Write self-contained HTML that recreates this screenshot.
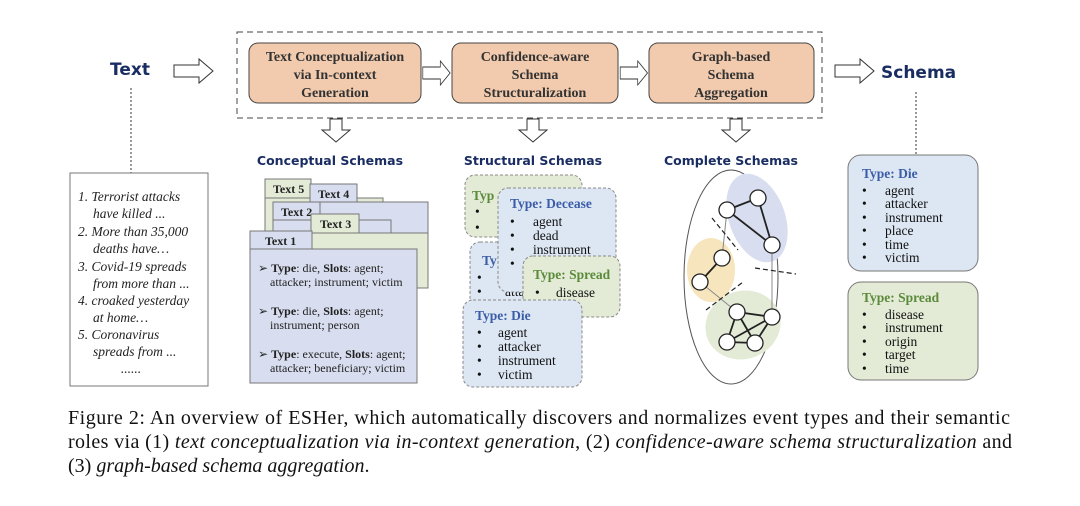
<!DOCTYPE html>
<html><head><meta charset="utf-8"><style>
html,body{margin:0;padding:0;background:#fff;width:1080px;height:506px;overflow:hidden}
svg text{font-family:"Liberation Serif",serif}
.ss{font-family:"DejaVu Sans","Liberation Sans",sans-serif;font-weight:bold;fill:#1a2d63}
</style></head><body>
<svg width="1080" height="506" viewBox="0 0 1080 506" xmlns="http://www.w3.org/2000/svg">
<defs>
<g id="harr"><path d="M0,-6 H25 V-12 L39,0 L25,12 V6 H0 Z" fill="#fff" stroke="#333" stroke-width="1"/></g>
<g id="darr"><path d="M-6,0 V11 H-14 L0,23 L14,11 H6 V0 Z" fill="#fff" stroke="#333" stroke-width="1"/></g>
</defs>
<text x="110" y="75" class="ss" font-size="17">Text</text>
<use href="#harr" x="174" y="71"/>
<rect x="237" y="32" width="585" height="86" fill="none" stroke="#444" stroke-dasharray="6,4"/>
<g font-weight="bold" font-size="14" fill="#333" text-anchor="middle">
<rect x="249" y="43" width="172" height="60" rx="9" fill="#f2cbae" stroke="#444"/>
<text x="335" y="61">Text Conceptualization</text><text x="335" y="79">via In-context</text><text x="335" y="97">Generation</text>
<rect x="452" y="43" width="166" height="60" rx="9" fill="#f2cbae" stroke="#444"/>
<text x="535" y="61">Confidence-aware</text><text x="535" y="79">Schema</text><text x="535" y="97">Structuralization</text>
<rect x="649" y="43" width="165" height="60" rx="9" fill="#f2cbae" stroke="#444"/>
<text x="731" y="61">Graph-based</text><text x="731" y="79">Schema</text><text x="731" y="97">Aggregation</text>
</g>
<g transform="scale(0.7,1)"><use href="#harr" x="604" y="73"/><use href="#harr" x="886" y="73"/></g>
<use href="#harr" x="835" y="71"/>
<text x="881" y="78" class="ss" font-size="17">Schema</text>
<use href="#darr" x="336" y="119"/><use href="#darr" x="533" y="119"/><use href="#darr" x="736" y="119"/>
<text x="330" y="165" class="ss" font-size="12.5" text-anchor="middle">Conceptual Schemas</text>
<text x="533" y="165" class="ss" font-size="12.5" text-anchor="middle">Structural Schemas</text>
<text x="731" y="165" class="ss" font-size="12.5" text-anchor="middle">Complete Schemas</text>
<line x1="131" y1="88" x2="131" y2="173" stroke="#333" stroke-dasharray="2,2"/>
<rect x="70" y="173" width="138" height="213" fill="#fff" stroke="#777"/>
<g font-style="italic" font-size="13.5" fill="#222">
<text x="78" y="201">1. Terrorist attacks</text><text x="93" y="218">have killed ...</text>
<text x="78" y="236">2. More than 35,000</text><text x="93" y="253">deaths have…</text>
<text x="78" y="271">3. Covid-19 spreads</text><text x="93" y="288">from more than ...</text>
<text x="78" y="305">4. croaked yesterday</text><text x="93" y="322">at home…</text>
<text x="78" y="339">5. Coronavirus</text><text x="93" y="356">spreads from ...</text>
<text x="131" y="373" text-anchor="middle">......</text>
</g>
<g stroke="#777" stroke-width="1" font-weight="bold" font-size="12" fill="#222">
<rect x="265" y="198" width="118" height="90" fill="#e3ebd6"/>
<rect x="265" y="179" width="46" height="19" fill="#e3ebd6"/><text x="273" y="193" stroke="none">Text 5</text>
<rect x="273" y="202" width="155" height="86" fill="#d8deef"/>
<rect x="310" y="184" width="47" height="18" fill="#d8deef"/><text x="318" y="198" stroke="none">Text 4</text>
<rect x="273" y="202" width="47" height="18" fill="#d8deef"/><text x="281" y="216" stroke="none">Text 2</text>
<rect x="273" y="220" width="118" height="20" fill="#d8deef"/>
<rect x="312" y="233" width="116" height="55" fill="#e3ebd6"/>
<rect x="311" y="214" width="48" height="19" fill="#e3ebd6"/><text x="320" y="228" stroke="none">Text 3</text>
<rect x="250" y="231" width="62" height="18" fill="#d8deef"/><text x="265" y="245" stroke="none">Text 1</text>
<rect x="250" y="249" width="167" height="134" fill="#d8deef"/>
</g>
<g font-size="12" fill="#222">
<text x="258" y="272">➢ <tspan font-weight="bold">Type</tspan>: die, <tspan font-weight="bold">Slots</tspan>: agent;</text>
<text x="270" y="286">attacker; instrument; victim</text>
<text x="258" y="315">➢ <tspan font-weight="bold">Type</tspan>: die, <tspan font-weight="bold">Slots</tspan>: agent;</text>
<text x="270" y="329">instrument; person</text>
<text x="258" y="358">➢ <tspan font-weight="bold">Type</tspan>: execute, <tspan font-weight="bold">Slots</tspan>: agent;</text>
<text x="270" y="372">attacker; beneficiary; victim</text>
</g>
<g stroke="#888" stroke-dasharray="3,2" font-size="13.5" fill="#111">
<rect x="465" y="175" width="117" height="62" rx="10" fill="#e3ebd6"/>
<text x="472" y="200" fill="#5a8a3a" font-weight="bold" stroke="none">Typ</text>
<text x="475" y="216" stroke="none">•</text><text x="475" y="232" stroke="none">•</text>
<rect x="470" y="242" width="80" height="70" rx="10" fill="#dde7f3"/>
<text x="482" y="265" fill="#3b5da8" font-weight="bold" stroke="none">Ty</text>
<text x="477" y="282" stroke="none">•</text><text x="477" y="296" stroke="none">•</text><text x="505" y="296" stroke="none">atta</text>
<rect x="498" y="188" width="118" height="104" rx="10" fill="#dde7f3"/>
<text x="510" y="208" fill="#3b5da8" font-weight="bold" stroke="none">Type: Decease</text>
<text x="510" y="226" stroke="none">•</text><text x="533" y="226" stroke="none">agent</text>
<text x="510" y="240" stroke="none">•</text><text x="533" y="240" stroke="none">dead</text>
<text x="510" y="254" stroke="none">•</text><text x="533" y="254" stroke="none">instrument</text>
<text x="510" y="268" stroke="none">•</text>
<rect x="523" y="256" width="97" height="61" rx="10" fill="#e3ebd6"/>
<text x="533" y="279" fill="#5a8a3a" font-weight="bold" stroke="none">Type: Spread</text>
<text x="535" y="297" stroke="none">•</text><text x="556" y="297" stroke="none">disease</text>
<rect x="463" y="300" width="119" height="87" rx="10" fill="#dde7f3"/>
<text x="475" y="320" fill="#3b5da8" font-weight="bold" stroke="none">Type: Die</text>
<text x="477" y="337" stroke="none">•</text><text x="498" y="337" stroke="none">agent</text>
<text x="477" y="351" stroke="none">•</text><text x="498" y="351" stroke="none">attacker</text>
<text x="477" y="365" stroke="none">•</text><text x="498" y="365" stroke="none">instrument</text>
<text x="477" y="379" stroke="none">•</text><text x="498" y="379" stroke="none">victim</text>
</g>
<ellipse cx="731" cy="277" rx="47" ry="107" fill="#fff" stroke="#555"/>
<ellipse cx="757" cy="218" rx="28" ry="46" transform="rotate(-20 757 218)" fill="#d8deef"/>
<ellipse cx="711" cy="270" rx="24" ry="32" fill="#f7e6bd"/>
<ellipse cx="743" cy="325" rx="38" ry="34" transform="rotate(-20 743 325)" fill="#e3ebd6"/>
<g stroke="#888" stroke-width="1"><line x1="727" y1="210" x2="722" y2="258"/><line x1="700" y1="282" x2="737" y2="312"/><line x1="772" y1="245" x2="772" y2="317"/></g>
<g stroke="#222" stroke-width="1.8">
<line x1="758" y1="198" x2="727" y2="210"/><line x1="758" y1="198" x2="772" y2="245"/><line x1="727" y1="210" x2="772" y2="245"/>
<line x1="722" y1="258" x2="700" y2="282"/>
<line x1="737" y1="312" x2="772" y2="317"/><line x1="737" y1="312" x2="727" y2="342"/><line x1="737" y1="312" x2="755" y2="343"/>
<line x1="772" y1="317" x2="727" y2="342"/><line x1="772" y1="317" x2="755" y2="343"/><line x1="727" y1="342" x2="755" y2="343"/>
</g>
<g fill="#fff" stroke="#222" stroke-width="1.3">
<circle cx="758" cy="198" r="8"/><circle cx="727" cy="210" r="8"/><circle cx="772" cy="245" r="8"/>
<circle cx="722" cy="258" r="8"/><circle cx="700" cy="282" r="8"/>
<circle cx="737" cy="312" r="8"/><circle cx="772" cy="317" r="8"/><circle cx="727" cy="342" r="8"/><circle cx="755" cy="343" r="8"/>
</g>
<g stroke="#222" stroke-dasharray="5,3" stroke-width="1.2">
<line x1="712" y1="218" x2="738" y2="250"/><line x1="755" y1="268" x2="796" y2="274"/><line x1="706" y1="310" x2="743" y2="282"/>
</g>
<line x1="916" y1="92" x2="916" y2="155" stroke="#333" stroke-dasharray="2,2"/>
<g font-size="13.5" fill="#111">
<rect x="848" y="155" width="130" height="116" rx="13" fill="#dde7f3" stroke="#777"/>
<text x="862" y="178" fill="#3b5da8" font-weight="bold">Type: Die</text>
<text x="862" y="195">•</text><text x="885" y="195">agent</text>
<text x="862" y="208">•</text><text x="885" y="208">attacker</text>
<text x="862" y="222">•</text><text x="885" y="222">instrument</text>
<text x="862" y="235">•</text><text x="885" y="235">place</text>
<text x="862" y="249">•</text><text x="885" y="249">time</text>
<text x="862" y="262">•</text><text x="885" y="262">victim</text>
<rect x="848" y="282" width="130" height="98" rx="13" fill="#e3ebd6" stroke="#777"/>
<text x="862" y="302" fill="#5a8a3a" font-weight="bold">Type: Spread</text>
<text x="862" y="319">•</text><text x="885" y="319">disease</text>
<text x="862" y="332">•</text><text x="885" y="332">instrument</text>
<text x="862" y="346">•</text><text x="885" y="346">origin</text>
<text x="862" y="359">•</text><text x="885" y="359">target</text>
<text x="862" y="373">•</text><text x="885" y="373">time</text>
</g>
<g font-size="20" fill="#111">
<text x="68" y="424" textLength="942" lengthAdjust="spacing">Figure 2:  An overview of ESHer, which automatically discovers and normalizes event types and their semantic</text>
<text x="68" y="448" textLength="944" lengthAdjust="spacing">roles via (1) <tspan font-style="italic">text conceptualization via in-context generation</tspan>, (2) <tspan font-style="italic">confidence-aware schema structuralization</tspan> and</text>
<text x="68" y="472">(3) <tspan font-style="italic">graph-based schema aggregation</tspan>.</text>
</g>
</svg>
</body></html>
